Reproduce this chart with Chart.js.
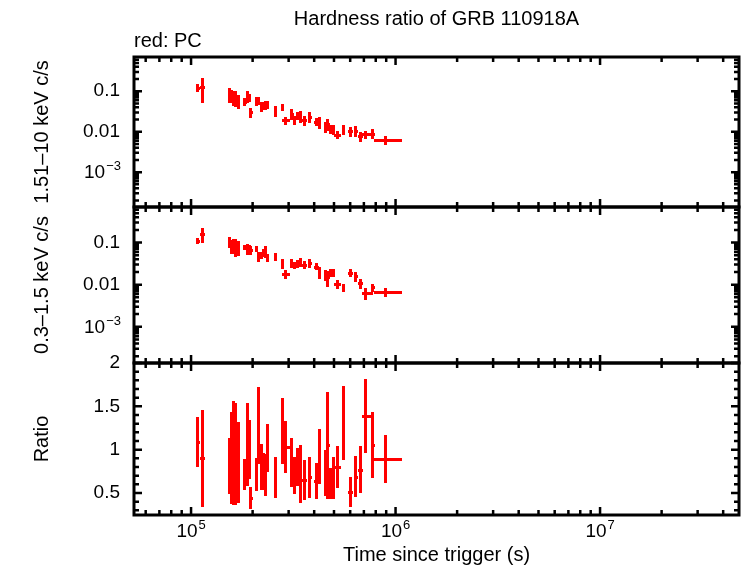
<!DOCTYPE html>
<html>
<head>
<meta charset="utf-8">
<title>Hardness ratio of GRB 110918A</title>
<script src="https://cdn.jsdelivr.net/npm/chart.js@4.4.1/dist/chart.umd.min.js"></script>
<style>
  html, body { margin: 0; padding: 0; background: #fff; overflow: hidden; }
  #chartBox { width: 742px; height: 566px; }
</style>
</head>
<body>
<div id="chartBox"><canvas id="hardnessChart" width="742" height="566"></canvas></div>
<script>
// Time bins (s since trigger) and their half-widths
const times = [107400, 113200, 152800, 157000, 161100, 164800, 168700, 182400, 188400, 192300,
  195000, 208000, 211800, 219300, 223900, 229100, 234400, 257600, 277300, 289100,
  309700, 319200, 331100, 341200, 358100, 379300, 408300, 420700, 453900, 464500,
  478600, 496600, 518800, 553400, 599800, 635300, 669900, 711200, 770900, 891300];
const timeErrMinus = [2000, 2000, 2000, 2000, 2000, 2000, 2000, 2500, 2500, 2500,
  2500, 2500, 2500, 3000, 3000, 3000, 3000, 3000, 3500, 12000,
  4000, 4000, 4000, 5000, 8000, 5000, 8000, 5000, 6000, 6000,
  10000, 6000, 19000, 8000, 12000, 12000, 12000, 29000, 10000, 104000];
const timeErrPlus = [2000, 2000, 2000, 2000, 2000, 2000, 2000, 2500, 2500, 2500,
  2500, 2500, 2500, 3000, 3000, 3000, 3000, 3000, 3500, 12000,
  4000, 4000, 4000, 5000, 8000, 5000, 8000, 5000, 6000, 6000,
  10000, 6000, 19000, 8000, 12000, 12000, 12000, 52000, 10000, 168000];

// 1.51-10 keV count rate (c/s)
const hardRate = [0.123, 0.13, 0.085, 0.080, 0.072, 0.070, 0.058, 0.055, 0.075, 0.068,
  0.030, 0.058, 0.058, 0.042, 0.045, 0.046, 0.046, 0.033, 0.040, 0.019,
  0.028, 0.020, 0.025, 0.024, 0.019, 0.023, 0.0175, 0.0175, 0.0135, 0.0155,
  0.012, 0.0113, 0.0085, 0.0113, 0.0103, 0.0105, 0.0077, 0.0087, 0.009, 0.0062];
const hardErr = [0.03, 0.08, 0.035, 0.03, 0.03, 0.03, 0.022, 0.012, 0.025, 0.015,
  0.008, 0.015, 0.012, 0.012, 0.01, 0.012, 0.01, 0.01, 0.008, 0.004,
  0.008, 0.005, 0.006, 0.008, 0.005, 0.007, 0.004, 0.006, 0.004, 0.005,
  0.003, 0.003, 0.002, 0.003, 0.003, 0.003, 0.002, 0.002, 0.0025, 0.0015];

// 0.3-1.5 keV count rate (c/s)
const softRate = [0.112, 0.16, 0.104, 0.085, 0.088, 0.085, 0.079, 0.077, 0.072, 0.068,
  0.067, 0.073, 0.047, 0.050, 0.057, 0.063, 0.045, 0.046, 0.032, 0.018,
  0.033, 0.029, 0.032, 0.034, 0.030, 0.033, 0.027, 0.020, 0.0173, 0.0150,
  0.019, 0.019, 0.0104, 0.0086, 0.019, 0.0158, 0.0108, 0.0063, 0.0086, 0.0067];
const softErr = [0.02, 0.06, 0.03, 0.03, 0.035, 0.04, 0.03, 0.012, 0.02, 0.018,
  0.015, 0.012, 0.012, 0.01, 0.012, 0.02, 0.01, 0.01, 0.008, 0.004,
  0.008, 0.006, 0.007, 0.008, 0.007, 0.008, 0.005, 0.006, 0.005, 0.006,
  0.004, 0.004, 0.0025, 0.002, 0.004, 0.004, 0.003, 0.002, 0.002, 0.0017];

// hard / soft ratio
const hardnessRatio = [1.09, 0.90, 0.81, 0.90, 0.96, 0.95, 0.85, 0.71, 1.06, 1.00,
  0.44, 0.71, 1.28, 0.80, 0.75, 0.71, 1.02, 0.68, 1.22, 1.03,
  0.85, 0.70, 0.80, 0.72, 0.65, 0.68, 0.64, 0.92, 0.73, 1.05,
  0.61, 0.67, 0.80, 1.31, 0.51, 0.69, 0.77, 1.39, 1.05, 0.89];
const ratioErr = [0.29, 0.56, 0.32, 0.53, 0.60, 0.59, 0.47, 0.18, 0.48, 0.34,
  0.13, 0.19, 0.44, 0.26, 0.21, 0.24, 0.28, 0.24, 0.38, 0.30,
  0.28, 0.21, 0.22, 0.33, 0.23, 0.24, 0.21, 0.32, 0.27, 0.62,
  0.18, 0.24, 0.24, 0.43, 0.17, 0.24, 0.27, 0.43, 0.38, 0.28];

// Tick labels ('^' marks a superscript exponent)
const timeTicks = [1e5, 1e6, 1e7];
const timeTickLabels = ['10^5', '10^6', '10^7'];
const rateTicks = [0.001, 0.01, 0.1];
const rateTickLabels = ['10^\u22123', '0.01', '0.1'];
const ratioTicks = [0.5, 1, 1.5, 2];
const ratioTickLabels = ['0.5', '1', '1.5', '2'];

const FONT = "'Liberation Sans', Arial, Helvetica, sans-serif";
Chart.defaults.font.family = FONT;
Chart.defaults.color = '#000';

function buildPoints(values, errors) {
  return times.map((t, i) => ({
    x: t, y: values[i],
    xMinus: timeErrMinus[i], xPlus: timeErrPlus[i], yErr: errors[i]
  }));
}

function fixedTicks(values) {
  return function(scale) {
    scale.ticks = values.map(v => ({ value: v }));
  };
}

// plain labels are drawn by Chart.js, power-of-ten labels by powerLabelPlugin
function labelFor(values, labels) {
  return function(value) {
    const idx = values.indexOf(value);
    if (idx < 0 || labels[idx].indexOf('^') >= 0) return '';
    return labels[idx];
  };
}

function drawPowerLabel(ctx, label, x, baseline, align) {
  const parts = label.split('^');
  ctx.font = '19px ' + FONT;
  const bw = ctx.measureText(parts[0]).width;
  ctx.font = '13px ' + FONT;
  const ew = ctx.measureText(parts[1]).width;
  const total = bw + 1 + ew;
  const left = align === 'right' ? x - total : x - total / 2;
  ctx.fillStyle = '#000';
  ctx.textAlign = 'left';
  ctx.textBaseline = 'alphabetic';
  ctx.font = '19px ' + FONT;
  ctx.fillText(parts[0], left, baseline);
  ctx.font = '13px ' + FONT;
  ctx.fillText(parts[1], left + bw + 1, baseline - 8);
}

const powerLabelPlugin = {
  id: 'powerLabels',
  afterDraw(chart) {
    const ctx = chart.ctx;
    const area = chart.chartArea;
    const xs = chart.scales.x;
    ctx.save();
    timeTicks.forEach((v, i) => {
      if (timeTickLabels[i].indexOf('^') < 0) return;
      drawPowerLabel(ctx, timeTickLabels[i], xs.getPixelForValue(v), xs.top + 22, 'center');
    });
    ['yHard', 'ySoft'].forEach(id => {
      const ys = chart.scales[id];
      rateTicks.forEach((v, i) => {
        if (rateTickLabels[i].indexOf('^') < 0) return;
        drawPowerLabel(ctx, rateTickLabels[i], area.left - 13, ys.getPixelForValue(v) + 6, 'right');
      });
    });
    ctx.restore();
  }
};

// Error bars drawn through the chart's own scales
const errorBarPlugin = {
  id: 'errorBars',
  afterDatasetsDraw(chart) {
    const ctx = chart.ctx;
    const xs = chart.scales.x;
    const area = chart.chartArea;
    chart.data.datasets.forEach(ds => {
      const ys = chart.scales[ds.yAxisID];
      ctx.save();
      ctx.beginPath();
      ctx.rect(area.left, ys.top, area.right - area.left, ys.bottom - ys.top);
      ctx.clip();
      ctx.strokeStyle = ds.borderColor;
      ctx.lineWidth = 3;
      ctx.lineCap = 'butt';
      ds.data.forEach(p => {
        const px = Math.round(xs.getPixelForValue(p.x)) + 0.5;
        const py = Math.round(ys.getPixelForValue(p.y)) + 0.5;
        const lo = Math.max(p.y - p.yErr, ys.min);
        ctx.beginPath();
        ctx.moveTo(Math.round(xs.getPixelForValue(p.x - p.xMinus)), py);
        ctx.lineTo(Math.round(xs.getPixelForValue(p.x + p.xPlus)) + 1, py);
        ctx.moveTo(px, Math.round(ys.getPixelForValue(lo)));
        ctx.lineTo(px, Math.round(ys.getPixelForValue(p.y + p.yErr)));
        ctx.stroke();
      });
      ctx.restore();
    });
  }
};

function logTickValues(min, max) {
  const out = [];
  for (let d = Math.floor(Math.log10(min)); d <= Math.ceil(Math.log10(max)); d++) {
    for (let m = 1; m <= 9; m++) {
      const v = m * Math.pow(10, d);
      if (v >= min && v <= max) out.push({ v: v, major: m === 1 });
    }
  }
  return out;
}

// Gnuplot-style frames with inward ticks on every side of every panel
const framePlugin = {
  id: 'panelFrames',
  afterDraw(chart) {
    const ctx = chart.ctx;
    const area = chart.chartArea;
    const xs = chart.scales.x;
    const xTicks = logTickValues(xs.min, xs.max);
    ['yHard', 'ySoft', 'yRatio'].forEach(id => {
      const ys = chart.scales[id];
      const top = ys.top, bottom = ys.bottom;
      ctx.save();
      ctx.strokeStyle = '#000';
      ctx.lineWidth = 2.5;
      ctx.beginPath();
      xTicks.forEach(t => {
        const px = xs.getPixelForValue(t.v);
        const len = t.major ? 8 : 5;
        ctx.moveTo(px, top); ctx.lineTo(px, top + len);
        ctx.moveTo(px, bottom); ctx.lineTo(px, bottom - len);
      });
      let yTicks;
      if (ys.type === 'logarithmic') {
        yTicks = logTickValues(ys.min, ys.max);
      } else {
        yTicks = [];
        for (let k = Math.ceil(ys.min * 10); k <= Math.floor(ys.max * 10); k++) {
          yTicks.push({ v: k / 10, major: k % 5 === 0 });
        }
      }
      yTicks.forEach(t => {
        const py = ys.getPixelForValue(t.v);
        const len = t.major ? 8 : 5;
        ctx.moveTo(area.left, py); ctx.lineTo(area.left + len, py);
        ctx.moveTo(area.right, py); ctx.lineTo(area.right - len, py);
      });
      ctx.stroke();
      ctx.lineWidth = 3;
      ctx.strokeRect(area.left, top, area.right - area.left, bottom - top);
      ctx.restore();
    });
  }
};

function yAxis(opts) {
  return {
    type: opts.type,
    position: 'left',
    stack: 'panels',
    stackWeight: opts.stackWeight,
    weight: opts.weight,
    min: opts.min,
    max: opts.max,
    afterBuildTicks: fixedTicks(opts.ticks),
    afterFit: scale => { scale.width = 134; },
    grid: { display: false, drawTicks: false },
    border: { display: false },
    ticks: {
      autoSkip: false,
      padding: 14,
      font: { size: 19 },
      callback: labelFor(opts.ticks, opts.labels)
    },
    title: {
      display: true,
      text: opts.title,
      font: { size: 20, lineHeight: 1.2 },
      padding: { top: 30, bottom: 0 }
    }
  };
}

const ctx = document.getElementById('hardnessChart').getContext('2d');
new Chart(ctx, {
  type: 'scatter',
  data: {
    datasets: [
      { label: 'hard', data: buildPoints(hardRate, hardErr), yAxisID: 'yHard', borderColor: '#ff0000', pointRadius: 0 },
      { label: 'soft', data: buildPoints(softRate, softErr), yAxisID: 'ySoft', borderColor: '#ff0000', pointRadius: 0 },
      { label: 'ratio', data: buildPoints(hardnessRatio, ratioErr), yAxisID: 'yRatio', borderColor: '#ff0000', pointRadius: 0 }
    ]
  },
  options: {
    responsive: false,
    animation: false,
    events: [],
    layout: { padding: { left: 0, right: 3, top: 0, bottom: 0 } },
    plugins: {
      legend: { display: false },
      tooltip: { enabled: false },
      title: {
        display: true,
        fullSize: false,
        text: 'Hardness ratio of GRB 110918A',
        font: { size: 20, weight: 'normal', lineHeight: 1 },
        padding: { top: 9, bottom: 0 }
      },
      subtitle: {
        display: true,
        fullSize: false,
        align: 'start',
        text: 'red: PC',
        font: { size: 20, lineHeight: 1 },
        padding: { top: 2, bottom: 6 }
      }
    },
    scales: {
      x: {
        type: 'logarithmic',
        position: 'bottom',
        min: 52600,
        max: 4.78e7,
        afterBuildTicks: fixedTicks(timeTicks),
        afterFit: scale => { scale.height = 51; },
        grid: { display: false, drawTicks: false },
        border: { display: false },
        ticks: {
          autoSkip: false,
          maxRotation: 0,
          padding: 6,
          font: { size: 19 },
          callback: labelFor(timeTicks, timeTickLabels)
        },
        title: {
          display: true,
          text: 'Time since trigger (s)',
          font: { size: 20, lineHeight: 1 },
          padding: { top: 0, bottom: 1 }
        }
      },
      yRatio: yAxis({ type: 'linear', stackWeight: 152, weight: 1, min: 0.246, max: 2,
        ticks: ratioTicks, labels: ratioTickLabels, title: 'Ratio' }),
      ySoft: yAxis({ type: 'logarithmic', stackWeight: 156, weight: 2, min: 1.38e-4, max: 0.70,
        ticks: rateTicks, labels: rateTickLabels, title: '0.3\u20131.5 keV c/s' }),
      yHard: yAxis({ type: 'logarithmic', stackWeight: 150, weight: 3, min: 1.38e-4, max: 0.70,
        ticks: rateTicks, labels: rateTickLabels, title: '1.51\u201310 keV c/s' })
    }
  },
  plugins: [errorBarPlugin, framePlugin, powerLabelPlugin]
});
</script>
</body>
</html>
